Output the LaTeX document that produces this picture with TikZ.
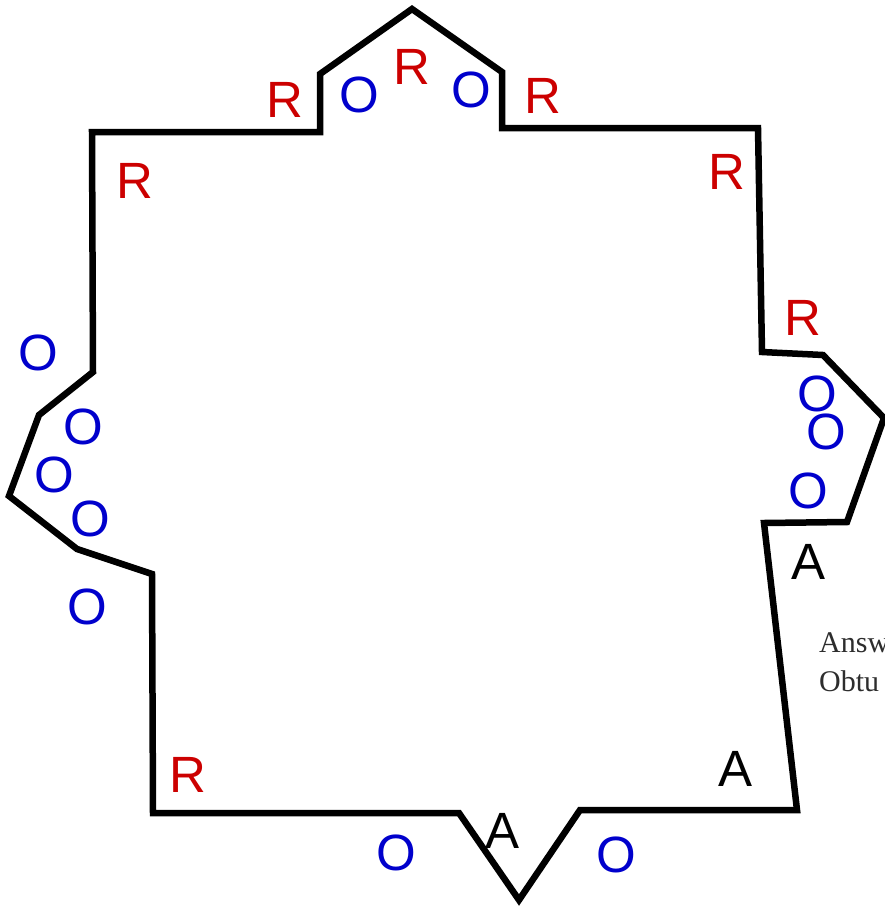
\documentclass[tikz,border=0pt]{standalone}
\usepackage{fontspec}
\setmainfont{Liberation Sans}
\newfontfamily\notefont{Liberation Serif}
\definecolor{rred}{RGB}{204,0,0}
\definecolor{oblue}{RGB}{0,0,204}
\definecolor{notegray}{RGB}{45,45,45}
\begin{document}
\begin{tikzpicture}[x=1pt, y=-1pt, rmark/.style={text=rred, font=\fontsize{51}{51}\selectfont, inner sep=0pt}, omark/.style={text=oblue, font=\fontsize{51}{51}\selectfont, inner sep=0pt}, amark/.style={text=black, font=\fontsize{51}{51}\selectfont, inner sep=0pt}, note/.style={text=notegray, font=\notefont\fontsize{30}{30}\selectfont, inner sep=0pt, anchor=base west}]
	\useasboundingbox (0,0) rectangle (885,908);
	\draw[line width=6.5pt, line join=miter] (92,132) -- (320,132) -- (320,74) -- (412,9) -- (502,72) -- (502,128) -- (758,128) -- (762,352) -- (823,355) -- (884,418) -- (847,522) -- (764,523) -- (797,810) -- (580,810) -- (519,900) -- (459,813) -- (153,813) -- (152,574) -- (77,549) -- (9,496) -- (39,415) -- (93,372) -- cycle;
	\node[rmark] (R1) at (285,100) {R};
	\node[omark] (O1) at (359,95) {O};
	\node[rmark] (R2) at (412,67) {R};
	\node[omark] (O2) at (471,90) {O};
	\node[rmark] (R3) at (543,96) {R};
	\node[rmark] (R4) at (135,181) {R};
	\node[rmark] (R5) at (727,172) {R};
	\node[rmark] (R6) at (803,318) {R};
	\node[omark] (O3) at (38,353) {O};
	\node[omark] (O4) at (83,427) {O};
	\node[omark] (O5) at (54,475) {O};
	\node[omark] (O6) at (90,519) {O};
	\node[omark] (O7) at (87,607) {O};
	\node[omark] (O8) at (817,394) {O};
	\node[omark] (O9) at (826,432) {O};
	\node[omark] (O10) at (808,491) {O};
	\node[amark] (A1) at (808,562) {A};
	\node[amark] (A2) at (736,769) {A};
	\node[rmark] (R7) at (188,775) {R};
	\node[omark] (O11) at (396,853) {O};
	\node[amark] (A3) at (503,831) {A};
	\node[omark] (O12) at (616,855) {O};
	\node[note] (N1) at (819,652) {Answ};
	\node[note] (N2) at (819,691) {Obtu};
\end{tikzpicture}
\end{document}
